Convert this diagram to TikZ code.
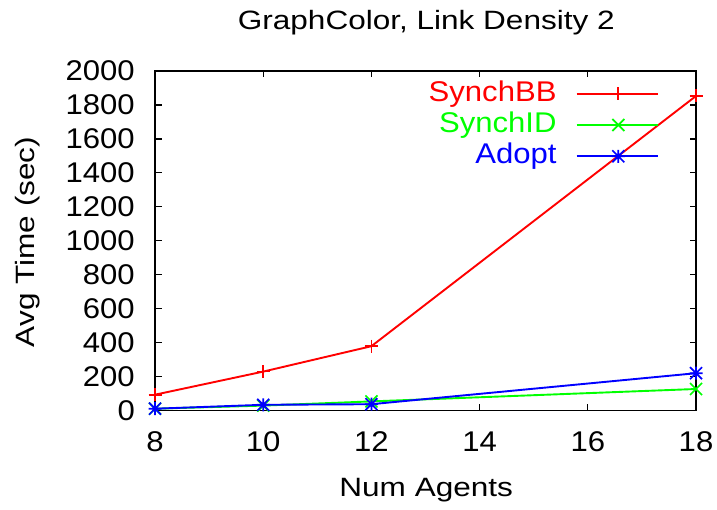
\documentclass[tikz,border=0pt]{standalone}
\usepackage{fontspec}
\setmainfont{Liberation Sans}
\definecolor{cred}{RGB}{255,0,0}
\definecolor{cgreen}{RGB}{0,255,0}
\definecolor{cblue}{RGB}{0,0,255}
\begin{document}
\begin{tikzpicture}[x=1pt,y=-1pt,
  ticklab/.style={font=\fontsize{28.5}{30}\selectfont, inner sep=0pt, xscale=1.09},
  biglab/.style={font=\fontsize{26.5}{30}\selectfont, inner sep=0pt, xscale=1.19},
  legtext/.style={font=\fontsize{28.5}{30}\selectfont, inner sep=0pt, xscale=1.09, anchor=east},
  frame/.style={line width=1.2pt, black},
  dataline/.style={line width=1.9pt, line join=round},
  plusm/.pic={\draw[line width=1.7pt] (-6.5,0)--(6.5,0) (0,-6.5)--(0,6.5);},
  crossm/.pic={\draw[line width=1.7pt] (-6,-6)--(6,6) (-6,6)--(6,-6);},
  starm/.pic={\draw[line width=1.7pt] (-6.5,0)--(6.5,0) (0,-6.5)--(0,6.5) (-6,-6)--(6,6) (-6,6)--(6,-6);}
]
\useasboundingbox[fill=white] (0,0) rectangle (717,510);

% frame
\coordinate (ll) at (155,410.7);
\coordinate (ur) at (696,71);
\draw[frame] (ll) rectangle (ur);

% y ticks and labels
\foreach \v/\yy in {0/410.7,200/376.7,400/342.8,600/308.8,800/274.8,1000/240.9,1200/206.9,1400/172.9,1600/139.0,1800/105.0,2000/71}{
  \draw[frame] (155,\yy) -- (161.5,\yy);
  \draw[frame] (696,\yy) -- (689.5,\yy);
  \node[ticklab, anchor=east] (ylab\v) at (135,\yy) {\v};
}
% x ticks and labels
\foreach \v/\xx in {8/155,10/263.2,12/371.4,14/479.6,16/587.8,18/696}{
  \draw[frame] (\xx,410.7) -- (\xx,404.2);
  \draw[frame] (\xx,71) -- (\xx,77.5);
  \node[ticklab] (xlab\v) at (\xx,441.5) {\v};
}

% title and axis labels
\node[biglab] (title) at (426.3,22.5) {GraphColor, Link Density 2};
\node[biglab] (xlabel) at (426.2,490) {Num Agents};
\node[rotate=90, biglab] (ylabel) at (27.5,242) {Avg Time (sec)};

% data
\coordinate (b1) at (155,394.7);
\coordinate (b2) at (263.2,371.6);
\coordinate (b3) at (371.4,346.2);
\coordinate (b4) at (696,96);
\coordinate (s1) at (155,408.7);
\coordinate (s2) at (263.2,405.6);
\coordinate (s3) at (371.4,401.4);
\coordinate (s4) at (696,389.0);
\coordinate (a1) at (155,408.7);
\coordinate (a2) at (263.2,404.8);
\coordinate (a3) at (371.4,404.2);
\coordinate (a4) at (696,373.2);

% legend
\node[legtext, text=cred] (lbb) at (556.7,93.7) {SynchBB};
\node[legtext, text=cgreen] (lid) at (556.7,125) {SynchID};
\node[legtext, text=cblue] (lad) at (556.7,156.3) {Adopt};
\coordinate (lbb0) at (576.7,93.7);
\coordinate (lbb1) at (658.3,93.7);
\coordinate (lbbm) at (618.3,93.7);
\coordinate (lid0) at (576.7,125);
\coordinate (lid1) at (658.3,125);
\coordinate (lidm) at (618.3,125);
\coordinate (lad0) at (576.7,156.3);
\coordinate (lad1) at (658.3,156.3);
\coordinate (ladm) at (618.3,156.3);

\begin{scope}[cred]
\draw[dataline] (lbb0) -- (lbb1);
\pic at (lbbm) {plusm};
\draw[dataline] (b1) -- (b2) -- (b3) -- (b4);
\foreach \p in {b1,b2,b3,b4} \pic at (\p) {plusm};
\end{scope}
\begin{scope}[cgreen]
\draw[dataline] (lid0) -- (lid1);
\pic at (lidm) {crossm};
\draw[dataline] (s1) -- (s2) -- (s3) -- (s4);
\foreach \p in {s1,s2,s3,s4} \pic at (\p) {crossm};
\end{scope}
\begin{scope}[cblue]
\draw[dataline] (lad0) -- (lad1);
\pic at (ladm) {starm};
\draw[dataline] (a1) -- (a2) -- (a3) -- (a4);
\foreach \p in {a1,a2,a3,a4} \pic at (\p) {starm};
\end{scope}
\end{tikzpicture}
\end{document}
